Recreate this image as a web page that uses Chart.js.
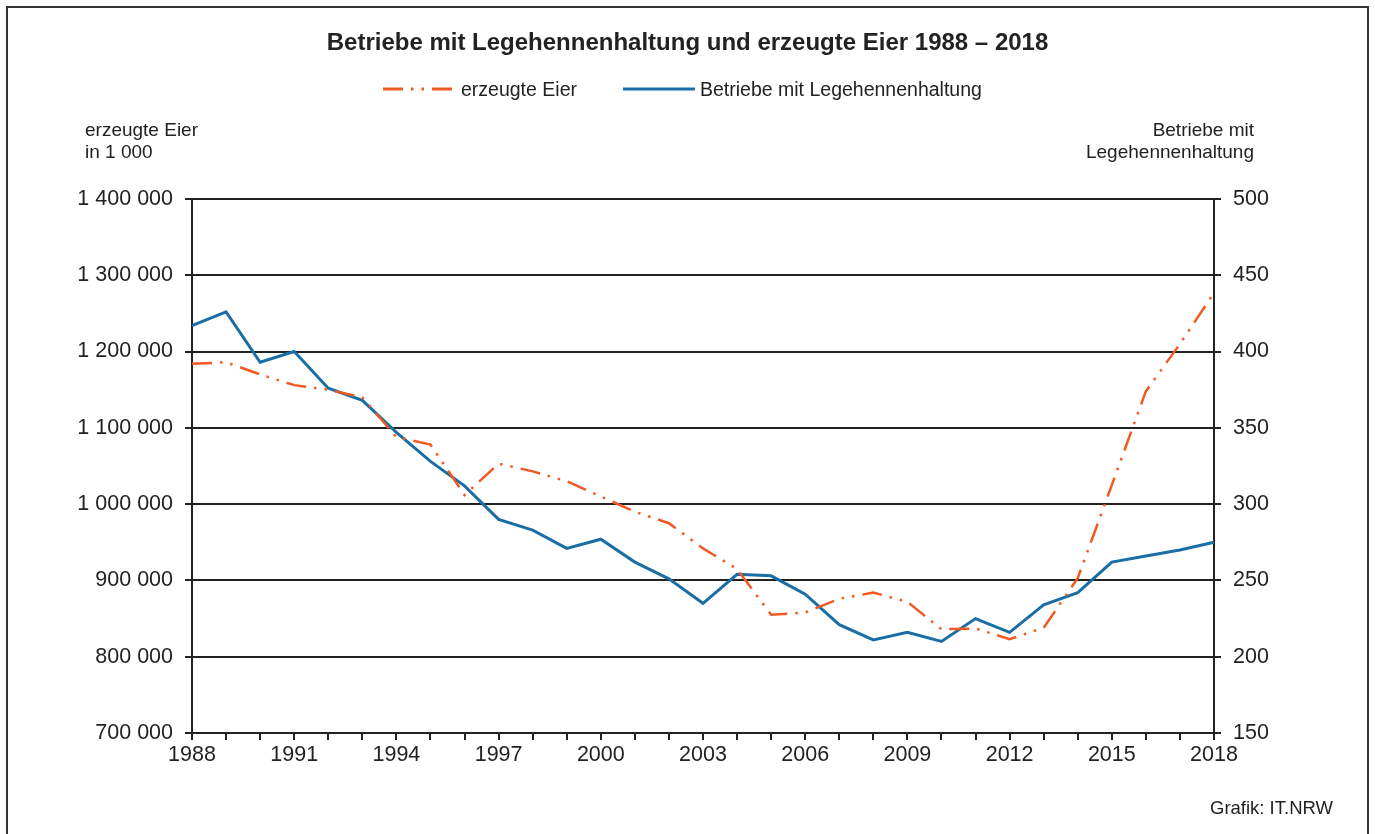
<!DOCTYPE html>
<html lang="de">
<head>
<meta charset="utf-8">
<title>Betriebe mit Legehennenhaltung und erzeugte Eier 1988 – 2018</title>
<script src="https://cdn.jsdelivr.net/npm/chart.js@4/dist/chart.umd.min.js"></script>
<style>
  html, body { margin: 0; padding: 0; background: #fff; }
  body { font-family: Arial, "Liberation Sans", sans-serif; color: #222; }
  #wrap { position: relative; width: 1375px; height: 834px; overflow: hidden; }
  #frame { position: absolute; left: 6px; top: 6px; width: 1359px; height: 900px; border: 2px solid #333; }
  #chartBox { position: absolute; left: 0; top: 0; width: 1375px; height: 834px; }
  .txt { position: absolute; white-space: nowrap; }
  #title { left: 0; width: 1375px; top: 28px; text-align: center; font-weight: bold; font-size: 24px; }
  .leg { top: 78px; font-size: 19.5px; }
  .axt { font-size: 19px; line-height: 22px; top: 119px; }
  #credit { font-size: 18.5px; right: 42px; top: 797px; }
</style>
</head>
<body>
<div id="wrap">
  <div id="frame"></div>
  <div id="chartBox"><canvas id="eggChart"></canvas></div>

  <div class="txt" id="title">Betriebe mit Legehennenhaltung und erzeugte Eier 1988 – 2018</div>

  <svg class="txt" style="left:383px; top:84px;" width="74" height="10">
    <line x1="0" y1="5" x2="74" y2="5" stroke="#EF5922" stroke-width="3" stroke-dasharray="20 8 2.5 8 2.5 8"></line>
  </svg>
  <div class="txt leg" style="left:461px;">erzeugte Eier</div>
  <svg class="txt" style="left:623px; top:84px;" width="72" height="10">
    <line x1="0" y1="5" x2="72" y2="5" stroke="#1B6EA5" stroke-width="3"></line>
  </svg>
  <div class="txt leg" style="left:700px;">Betriebe mit Legehennenhaltung</div>

  <div class="txt axt" style="left:85px;">erzeugte Eier<br>in 1 000</div>
  <div class="txt axt" style="right:121px; text-align:right;">Betriebe mit<br>Legehennenhaltung</div>

  <div class="txt" id="credit">Grafik: IT.NRW</div>
</div>

<script>
// Jahre 1988 - 2018
const years = ['1988', '1989', '1990', '1991', '1992', '1993', '1994', '1995', '1996', '1997',
  '1998', '1999', '2000', '2001', '2002', '2003', '2004', '2005', '2006', '2007',
  '2008', '2009', '2010', '2011', '2012', '2013', '2014', '2015', '2016', '2017', '2018'];

// erzeugte Eier in 1 000 (linke Achse)
const eggs = [1184000, 1186000, 1170000, 1156000, 1150000, 1140000, 1088000, 1078000, 1012000, 1053000,
  1043000, 1030000, 1010000, 990000, 975000, 942000, 915000, 855000, 858000, 876000,
  884000, 872000, 836000, 837000, 823000, 838000, 903000, 1025000, 1148000, 1210000, 1277000];

// Betriebe mit Legehennenhaltung (rechte Achse)
const farms = [417, 426, 393, 400, 376, 368, 347, 328, 312, 290,
  283, 271, 277, 262, 251, 235, 254, 253, 241, 221,
  211, 216, 210, 225, 216, 234, 242, 262, 266, 270, 275];

const leftMin = 700000, leftMax = 1400000, leftStep = 100000;
const rightMin = 150, rightMax = 500, rightStep = 50;

const ORANGE = '#EF5922';
const BLUE = '#1B6EA5';
const INK = '#222';

function fmtDe(v) {
  // 1 400 000 - Leerzeichen als Tausendertrenner
  return String(v).replace(/\B(?=(\d{3})+(?!\d))/g, ' ');
}

const tickFont = { family: 'Arial, "Liberation Sans", sans-serif', size: 21.5 };

new Chart(document.getElementById('eggChart'), {
  type: 'line',
  data: {
    labels: years,
    datasets: [
      { label: 'erzeugte Eier', data: eggs, yAxisID: 'yEggs',
        borderColor: ORANGE, borderWidth: 2.5, borderDash: [20, 8, 2.5, 8, 2.5, 8],
        pointRadius: 0, tension: 0, fill: false, order: 1 },
      { label: 'Betriebe mit Legehennenhaltung', data: farms, yAxisID: 'yFarms',
        borderColor: BLUE, borderWidth: 3, pointRadius: 0, tension: 0, fill: false, order: 2 }
    ]
  },
  options: {
    responsive: true, maintainAspectRatio: false, animation: false,
    layout: { padding: { top: 199, bottom: 61, left: 0, right: 0 } },
    plugins: { legend: { display: false }, title: { display: false }, tooltip: { enabled: false } },
    scales: {
      x: {
        type: 'category', offset: false,
        grid: { drawOnChartArea: false, drawTicks: true, tickLength: 7, color: INK, lineWidth: 2 },
        border: { display: true, color: INK, width: 2 },
        ticks: {
          autoSkip: false, maxRotation: 0, color: INK, font: tickFont, padding: 2,
          callback: function (v, i) { return i % 3 === 0 ? years[i] : ''; }
        },
        afterFit: function (s) { s.height = 40; }
      },
      yEggs: {
        position: 'left', min: leftMin, max: leftMax,
        grid: { color: INK, lineWidth: 2, tickLength: 7 },
        border: { display: true, color: INK, width: 2 },
        ticks: { stepSize: leftStep, color: INK, font: tickFont, padding: 12,
          callback: function (v) { return fmtDe(v); } },
        afterFit: function (s) { s.width = 192; }
      },
      yFarms: {
        position: 'right', min: rightMin, max: rightMax,
        grid: { drawOnChartArea: false, color: INK, lineWidth: 2, tickLength: 7 },
        border: { display: true, color: INK, width: 2 },
        ticks: { stepSize: rightStep, color: INK, font: tickFont, padding: 12 },
        afterFit: function (s) { s.width = 161; }
      }
    }
  }
});
</script>
</body>
</html>
